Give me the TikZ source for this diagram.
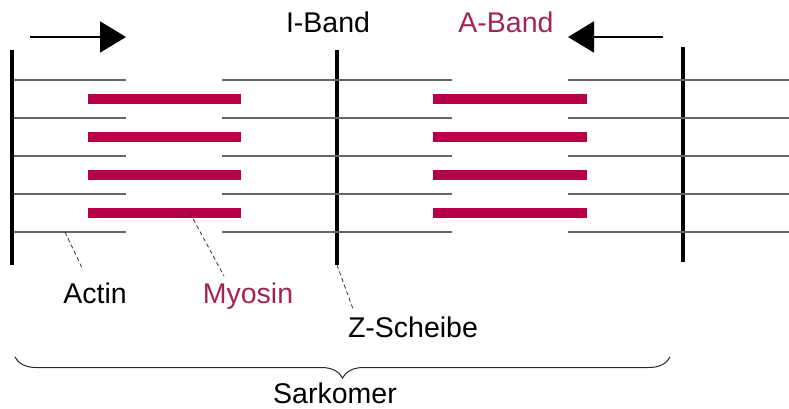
\documentclass[tikz,border=0pt]{standalone}
\usepackage{fontspec}
\setmainfont{Liberation Sans}
\usetikzlibrary{arrows.meta,decorations.pathreplacing}
\definecolor{myosinrot}{RGB}{184,0,72}
\definecolor{myosintxt}{RGB}{163,36,84}

\begin{document}
\begin{tikzpicture}[x=1pt, y=-1pt,
		zline/.style={line width=4pt},
		actin/.style={line width=1.5pt, black!60},
		myosin/.style={line width=10pt, myosinrot},
		leader/.style={line width=0.8pt, black!80, dash pattern=on 4pt off 3pt},
		rotulo/.style={font=\fontsize{28.5}{34}\selectfont, anchor=base, inner sep=0pt},
		seta/.style={line width=2pt, -{Triangle[length=26pt,width=31pt]}}]
	\useasboundingbox (0,0) rectangle (789,409);

		% As linhas Z...
			\draw[zline] (12,50) -- (12,265);
			\draw[zline] (337,50) -- (337,265);
			\draw[zline] (683,47) -- (683,262);

		% Actin e Myosin
			\foreach \y in {80,118,156,194,232} {
				\draw[actin] (14,\y) -- (126,\y);
				\draw[actin] (222,\y) -- (452,\y);
				\draw[actin] (568,\y) -- (789,\y);
			}
			\foreach \y in {99,137,175,213} {
				\draw[myosin] (88,\y) -- (241,\y);
				\draw[myosin] (433,\y) -- (587,\y);
			}

		% As setas e os rotulos
			\draw[seta] (30,37) -- (126,37);
			\draw[seta] (663,37) -- (568,37);
			\node[rotulo] (iband) at (328,33) {I-Band};
			\node[rotulo, text=myosintxt] (aband) at (506,33) {A-Band};
			\node[rotulo] (actin) at (95,303) {Actin};
			\node[rotulo, text=myosintxt] (myosin) at (248,303) {Myosin};
			\node[rotulo] (zscheibe) at (413,337) {Z-Scheibe};
			\node[rotulo] (sarkomer) at (335,403) {Sarkomer};

			\coordinate (pactin) at (65,232);
			\coordinate (qactin) at (83,270);
			\coordinate (pmyosin) at (190,213);
			\coordinate (qmyosin) at (224,276);
			\coordinate (pz) at (337,265);
			\coordinate (qz) at (353,309);
			\draw[leader] (pactin) -- (qactin);
			\draw[leader] (pmyosin) -- (qmyosin);
			\draw[leader] (pz) -- (qz);

		% A chave do sarkomer
			\draw[line width=1pt, black!85, decorate, decoration={brace, amplitude=21pt}] (670,357) -- (15,357);
	\end{tikzpicture}
\end{document}
